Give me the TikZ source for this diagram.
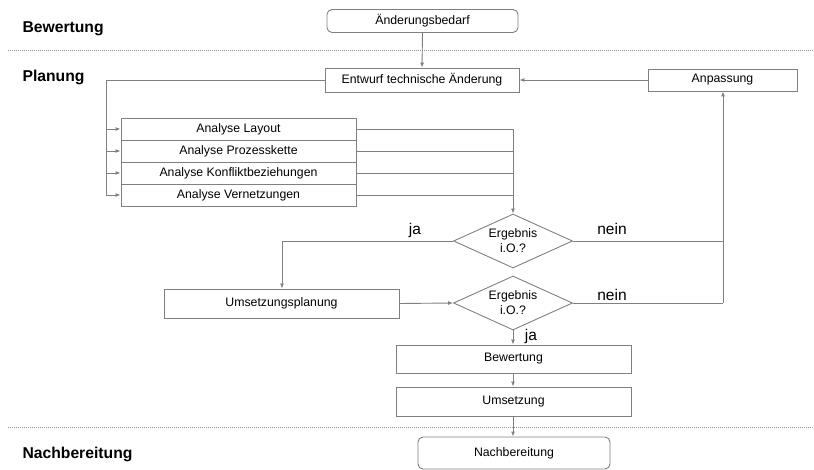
\documentclass[tikz,border=0pt]{standalone}
\usepackage{fontspec}
\setmainfont{Liberation Sans}
\usetikzlibrary{shapes.geometric,arrows.meta}

\definecolor{linegray}{RGB}{128,128,128}
\definecolor{sepgray}{RGB}{150,150,150}

\tikzset{
  box/.style={draw=linegray, line width=0.9pt, fill=white, inner sep=0pt,
    font=\fontsize{12.3}{14}\selectfont, text=black},
  roundbox/.style={box, rounded corners=5pt},
  decision/.style={draw=linegray, line width=0.9pt, diamond, shape aspect=2.2,
    inner sep=0pt, minimum width=119pt, minimum height=54pt, align=center,
    font=\fontsize{12.3}{15}\selectfont},
  flow/.style={draw=linegray, line width=0.9pt,
    -{Latex[length=5pt,width=4pt]}},
  plain/.style={draw=linegray, line width=0.9pt},
  phase/.style={anchor=west, font=\fontsize{15.7}{18}\selectfont\bfseries},
  answer/.style={font=\fontsize{15.5}{18}\selectfont},
  separator/.style={draw=sepgray, line width=0.6pt, dash pattern=on 1pt off 1pt}
}

\begin{document}
\begin{tikzpicture}[x=1pt,y=-1pt]
  \useasboundingbox (0,0) rectangle (814,470);

  % phase separators
  \draw[separator] (8,50) -- (814,50);
  \draw[separator] (8,427) -- (814,427);

  % phase labels
  \node[phase] (lbew) at (19,29) {Bewertung};
  \node[phase] (lplan) at (19,77) {Planung};
  \node[phase] (lnach) at (19,454) {Nachbereitung};

  % process steps
  \node[roundbox, minimum width=191pt, minimum height=23pt] (aend) at (422.5,21) {Änderungsbedarf};
  \node[box, minimum width=194pt, minimum height=24pt] (entw) at (422,80) {Entwurf technische Änderung};
  \node[box, minimum width=149pt, minimum height=22pt] (anp) at (722.5,80) {Anpassung};

  \node[box, minimum width=235pt, minimum height=22pt] (a1) at (238.5,129) {Analyse Layout};
  \node[box, minimum width=235pt, minimum height=22pt] (a2) at (238.5,151) {Analyse Prozesskette};
  \node[box, minimum width=235pt, minimum height=22pt] (a3) at (238.5,173) {Analyse Konfliktbeziehungen};
  \node[box, minimum width=235pt, minimum height=22pt] (a4) at (238.5,195) {Analyse Vernetzungen};

  \node[decision] (d1) at (513,241) {Ergebnis\\i.O.?};
  \node[box, minimum width=235pt, minimum height=29pt] (ump) at (281.5,303.5) {Umsetzungsplanung};
  \node[decision] (d2) at (513,303) {Ergebnis\\i.O.?};

  \node[box, minimum width=235pt, minimum height=28pt] (bew) at (513.5,359) {Bewertung};
  \node[box, minimum width=235pt, minimum height=29pt] (ums) at (513.5,401.5) {Umsetzung};
  \node[roundbox, minimum width=192pt, minimum height=32pt] (nach) at (514,453) {Nachbereitung};

  % routing points
  \coordinate (bus) at (106,80);
  \coordinate (merge) at (513,129);
  \coordinate (jaturn) at (282,241);
  \coordinate (neinturn) at (723,303);

  % connectors
  \draw[flow] (aend.south) -- (entw.north);
  \draw[flow] (anp.west) -- (entw.east);

  \draw[plain] (entw.west) -- (bus) -- (bus |- a4.west);
  \foreach \b in {a1,a2,a3,a4}
    \draw[flow] (bus |- \b.west) -- (\b.west);

  \foreach \b in {a1,a2,a3}
    \draw[plain] (\b.east) -- (merge |- \b.east);
  \draw[plain] (a4.east) -- (merge |- a4.east);
  \draw[flow] (merge) -- (d1.north);

  \draw[plain] (d1.west) -- (jaturn);
  \draw[flow] (jaturn) -- (ump.north -| jaturn);
  \draw[plain] (d1.east) -- (neinturn |- d1.east);
  \draw[plain] (d2.east) -- (neinturn);
  \draw[flow] (neinturn) -- (anp.south -| neinturn);

  \draw[flow] (ump.east) -- (d2.west);
  \draw[flow] (d2.south) -- (bew.north -| d2.south);
  \draw[flow] (bew.south -| d2.south) -- (ums.north -| d2.south);
  \draw[flow] (ums.south -| d2.south) -- (nach.north -| d2.south);

  % decision answers
  \node[answer] (ja1) at (415,230) {ja};
  \node[answer] (nein1) at (612,229) {nein};
  \node[answer] (nein2) at (612,295) {nein};
  \node[answer] (ja2) at (531,336) {ja};
\end{tikzpicture}
\end{document}
